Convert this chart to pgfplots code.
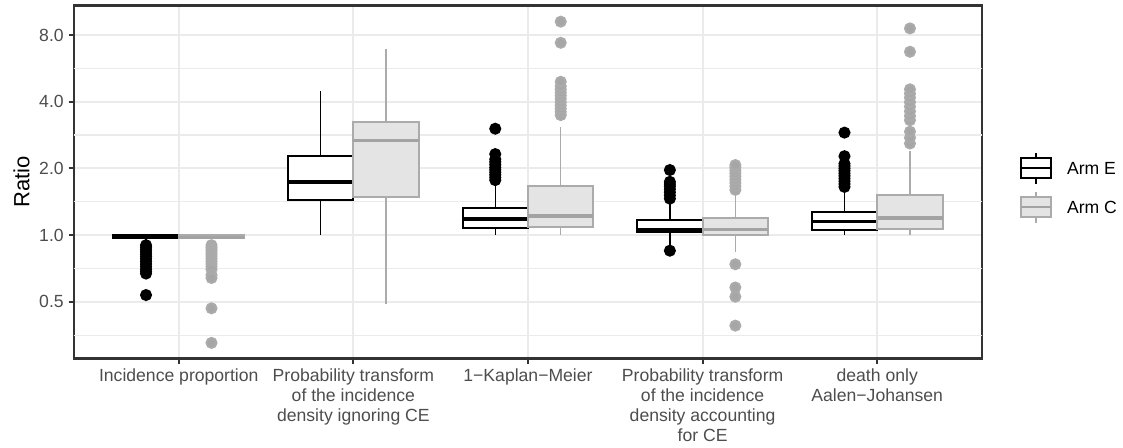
\documentclass[border=0pt]{standalone}
\usepackage{fontspec}
\setmainfont{Liberation Sans}
\usepackage{pgfplots}
\pgfplotsset{compat=1.18}
\usepgfplotslibrary{statistics}
\definecolor{gridc}{HTML}{EBEBEB}
\definecolor{borderc}{HTML}{333333}
\definecolor{ticklab}{HTML}{4D4D4D}
\definecolor{lineC}{HTML}{ABABAB}
\definecolor{medC}{HTML}{A3A3A3}
\definecolor{fillC}{HTML}{E4E4E4}
\definecolor{ptC}{HTML}{A6A6A6}
\begin{document}
\begin{tikzpicture}
\useasboundingbox (0,0) rectangle (561.5pt,223.5pt);
\begin{axis}[
  at={(37pt,44.25pt)}, anchor=south west,
  scale only axis, width=454pt, height=176.5pt,
  xmin=0.4, xmax=5.6,
  ymode=log, log basis y=2, ymin=0.2771, ymax=10.87,
  xtick={1,2,3,4,5},
  xticklabels={{Incidence proportion},{Probability transform\\of the incidence\\density ignoring CE},{1−Kaplan−Meier},{Probability transform\\of the incidence\\density accounting\\for CE},{death only\\Aalen−Johansen}},
  ytick={0.5,1,2,4,8}, yticklabels={0.5,1.0,2.0,4.0,8.0},
  extra y ticks={0.353553,0.707107,1.414214,2.828427,5.656854},
  extra y tick labels={},
  extra y tick style={major tick length=0pt, major grid style={draw=gridc, line width=0.53pt}},
  grid=major,
  major grid style={draw=gridc, line width=1.07pt},
  axis line style={draw=borderc, line width=1.07pt},
  tick align=outside, tick pos=left,
  major tick length=2.75pt, minor tick length=0pt,
  every tick/.style={draw=borderc, line width=1.07pt},
  tick label style={font=\fontsize{8.8}{10}\selectfont, text=ticklab, inner sep=0pt},
  xticklabel style={align=center, anchor=north, yshift=-2.2pt},
  yticklabel style={anchor=east, xshift=-2.2pt},
  ylabel={Ratio},
  every axis y label/.style={at={(axis description cs:0,0.5)}, xshift=-26.2pt, rotate=90, anchor=center, font=\fontsize{11}{13}\selectfont, inner sep=0pt},
  boxplot/draw direction=y,
  boxplot/box extend=0.375,
  boxplot/whisker extend=0,
  boxplot/every whisker/.style={line width=0.75pt},
  boxplot/every box/.style={line width=1pt},
]
% ---------- Arm E ----------
\addplot[draw=black, fill=white, line width=1pt, mark=*, mark size=2.5pt, mark options={draw=none, fill=black},
  boxplot/every median/.style={line width=1.7pt},
  boxplot prepared={draw direction=y, draw position=0.8125, lower whisker=0.95, lower quartile=0.966, median=0.983, upper quartile=1.0, upper whisker=1.0}]
  table[row sep=\\, y index=0] {v\\0.90\\0.88\\0.86\\0.84\\0.82\\0.80\\0.78\\0.76\\0.74\\0.72\\0.70\\0.685\\0.67\\0.536\\};
\addplot[draw=black, fill=white, line width=1pt, mark=*, mark size=2.5pt, mark options={draw=none, fill=black},
  boxplot/every median/.style={line width=1.7pt},
  boxplot prepared={draw direction=y, draw position=1.8125, lower whisker=1.0, lower quartile=1.44, median=1.735, upper quartile=2.27, upper whisker=4.47}]
  coordinates {};
\addplot[draw=black, fill=white, line width=1pt, mark=*, mark size=2.5pt, mark options={draw=none, fill=black},
  boxplot/every median/.style={line width=1.7pt},
  boxplot prepared={draw direction=y, draw position=2.8125, lower whisker=1.0, lower quartile=1.075, median=1.181, upper quartile=1.328, upper whisker=1.74}]
  table[row sep=\\, y index=0] {v\\1.77\\1.82\\1.87\\1.92\\1.97\\2.02\\2.08\\2.14\\2.20\\2.32\\3.02\\};
\addplot[draw=black, fill=white, line width=1pt, mark=*, mark size=2.5pt, mark options={draw=none, fill=black},
  boxplot/every median/.style={line width=1.7pt},
  boxplot prepared={draw direction=y, draw position=3.8125, lower whisker=0.90, lower quartile=1.035, median=1.053, upper quartile=1.165, upper whisker=1.41}]
  table[row sep=\\, y index=0] {v\\0.85\\1.46\\1.51\\1.56\\1.61\\1.66\\1.70\\1.74\\1.966\\};
\addplot[draw=black, fill=white, line width=1pt, mark=*, mark size=2.5pt, mark options={draw=none, fill=black},
  boxplot/every median/.style={line width=1.7pt},
  boxplot prepared={draw direction=y, draw position=4.8125, lower whisker=1.0, lower quartile=1.057, median=1.153, upper quartile=1.27, upper whisker=1.58}]
  table[row sep=\\, y index=0] {v\\1.65\\1.70\\1.75\\1.80\\1.85\\1.90\\1.95\\2.00\\2.05\\2.10\\2.27\\2.90\\};
% ---------- Arm C ----------
\addplot[draw=lineC, fill=fillC, line width=1pt, mark=*, mark size=2.5pt, mark options={draw=none, fill=ptC},
  boxplot/every median/.style={line width=1.7pt, draw=medC},
  boxplot prepared={draw direction=y, draw position=1.1875, lower whisker=0.95, lower quartile=0.966, median=0.976, upper quartile=1.0, upper whisker=1.0}]
  table[row sep=\\, y index=0] {v\\0.90\\0.88\\0.86\\0.84\\0.82\\0.80\\0.78\\0.76\\0.74\\0.72\\0.70\\0.66\\0.64\\0.467\\0.326\\};
\addplot[draw=lineC, fill=fillC, line width=1pt, mark=*, mark size=2.5pt, mark options={draw=none, fill=ptC},
  boxplot/every median/.style={line width=1.7pt, draw=medC},
  boxplot prepared={draw direction=y, draw position=2.1875, lower whisker=0.488, lower quartile=1.489, median=2.675, upper quartile=3.25, upper whisker=6.89}]
  coordinates {};
\addplot[draw=lineC, fill=fillC, line width=1pt, mark=*, mark size=2.5pt, mark options={draw=none, fill=ptC},
  boxplot/every median/.style={line width=1.7pt, draw=medC},
  boxplot prepared={draw direction=y, draw position=3.1875, lower whisker=1.0, lower quartile=1.083, median=1.218, upper quartile=1.664, upper whisker=3.06}]
  table[row sep=\\, y index=0] {v\\3.48\\3.60\\3.72\\3.85\\3.98\\4.12\\4.26\\4.40\\4.55\\4.70\\4.92\\7.38\\9.19\\};
\addplot[draw=lineC, fill=fillC, line width=1pt, mark=*, mark size=2.5pt, mark options={draw=none, fill=ptC},
  boxplot/every median/.style={line width=1.7pt, draw=medC},
  boxplot prepared={draw direction=y, draw position=4.1875, lower whisker=0.841, lower quartile=1.0, median=1.061, upper quartile=1.19, upper whisker=1.54}]
  table[row sep=\\, y index=0] {v\\1.60\\1.66\\1.72\\1.78\\1.84\\1.90\\1.96\\2.02\\2.07\\0.738\\0.58\\0.527\\0.39\\};
\addplot[draw=lineC, fill=fillC, line width=1pt, mark=*, mark size=2.5pt, mark options={draw=none, fill=ptC},
  boxplot/every median/.style={line width=1.7pt, draw=medC},
  boxplot prepared={draw direction=y, draw position=5.1875, lower whisker=1.0, lower quartile=1.061, median=1.193, upper quartile=1.52, upper whisker=2.4}]
  table[row sep=\\, y index=0] {v\\2.59\\2.75\\2.93\\3.30\\3.45\\3.62\\3.80\\3.98\\4.17\\4.35\\4.55\\6.72\\8.57\\};
\end{axis}
% ---------- legend ----------
\draw[black, line width=0.75pt] (517.9pt,144.35pt) -- (517.9pt,147.1pt);
\draw[black, line width=0.75pt] (517.9pt,134.35pt) -- (517.9pt,131.6pt);
\draw[black, fill=white, line width=1pt] (510.5pt,134.35pt) rectangle (525.3pt,144.35pt);
\draw[black, line width=1pt] (510.5pt,139.35pt) -- (525.3pt,139.35pt);
\node[anchor=west, inner sep=0pt, font=\fontsize{8.8}{10}\selectfont] at (533.3pt,139.35pt) {Arm E};
\draw[lineC, line width=0.75pt] (517.9pt,124.85pt) -- (517.9pt,127.6pt);
\draw[lineC, line width=0.75pt] (517.9pt,114.85pt) -- (517.9pt,112.1pt);
\draw[lineC, fill=fillC, line width=1pt] (510.5pt,114.85pt) rectangle (525.3pt,124.85pt);
\draw[medC, line width=1pt] (510.5pt,119.85pt) -- (525.3pt,119.85pt);
\node[anchor=west, inner sep=0pt, font=\fontsize{8.8}{10}\selectfont] at (533.3pt,119.85pt) {Arm C};
\end{tikzpicture}
\end{document}
